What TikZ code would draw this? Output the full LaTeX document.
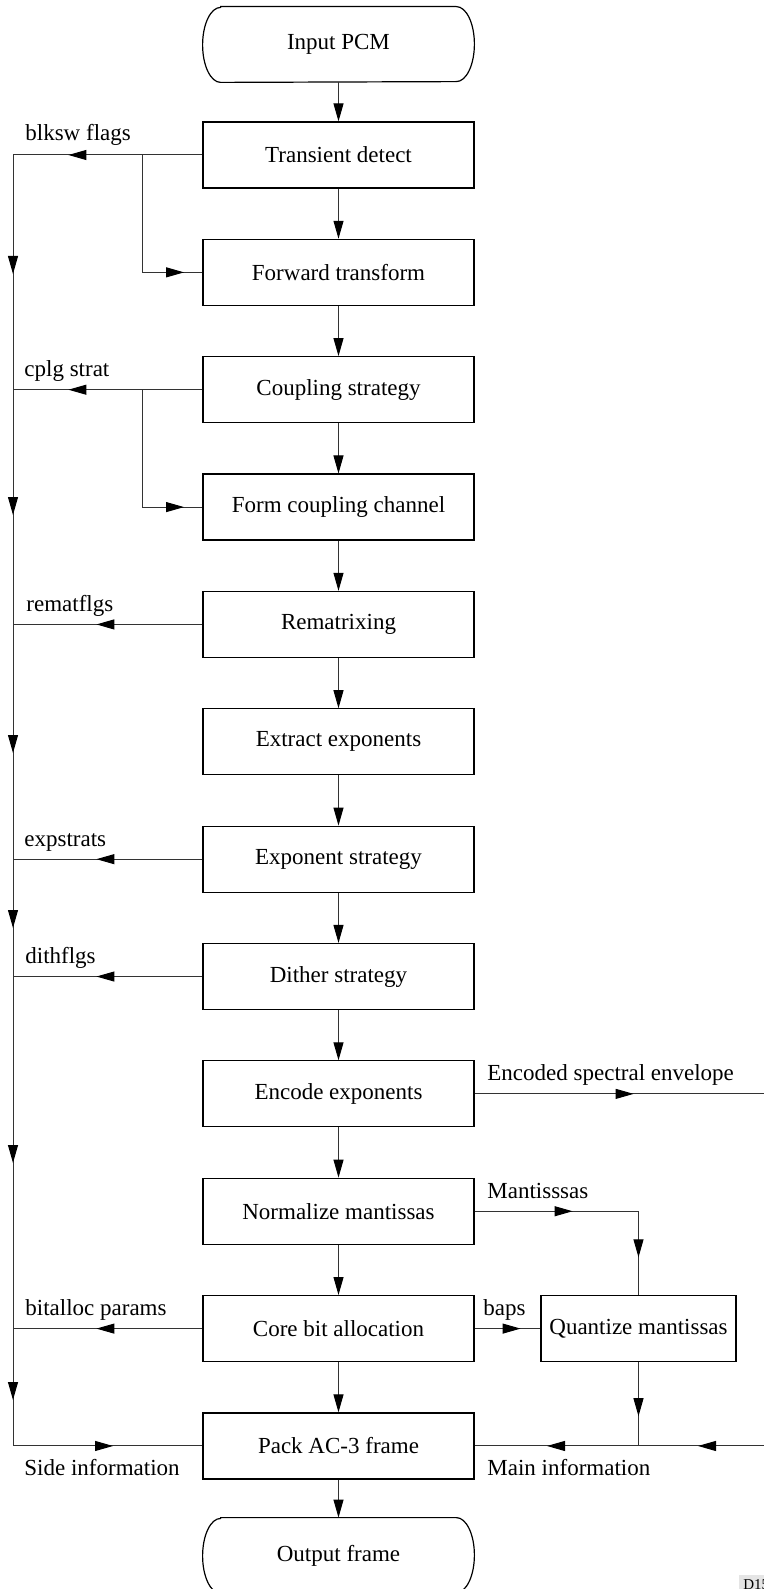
\documentclass[tikz,border=0pt]{standalone}
\usepackage{fontspec}
\setmainfont{Liberation Serif}
\usetikzlibrary{arrows.meta,decorations.markings}

\tikzset{
  flow/.tip={Triangle[length=9pt,width=5pt,color=black]},
  stage/.style={draw, line width=0.6pt, minimum width=135.5pt, minimum height=33pt, inner sep=0pt},
  terminal/.style={minimum width=135.5pt, minimum height=37.5pt, inner sep=0pt},
  link/.style={black!80, line width=0.5pt},
  tipat/.style={postaction={decorate, decoration={markings, mark=at position #1 with {\arrow{flow}}}}},
  lbl/.style={anchor=base west, inner sep=0pt},
}

\begin{document}
\begin{tikzpicture}[x=0.5pt, y=0.5pt, font=\fontsize{11.5}{13}\selectfont]
    \useasboundingbox (0,0) rectangle (764,-1589);
    \coordinate (bus) at (13,0);
    \coordinate (br) at (142,0);
    \coordinate (edge) at (764,0);

    % main chain of stages
    \node[terminal] (inpcm) at (338.5,-44.5) {Input PCM};
    \foreach \i/\n/\t in {0/trans/Transient detect, 1/fwd/Forward transform,
        2/cplg/Coupling strategy, 3/form/Form coupling channel, 4/remat/Rematrixing,
        5/extr/Extract exponents, 6/expst/Exponent strategy, 7/dith/Dither strategy,
        8/enc/Encode exponents, 9/norm/Normalize mantissas, 10/core/Core bit allocation,
        11/pack/Pack AC-3 frame}
      \node[stage] (\n) at (338.5,{-155-117.36*\i}) {\t};
    \node[terminal] (outfrm) at (338.5,-1555.5) {Output frame};
    \node[stage, minimum width=97.5pt] (quant) at (638.5,-1328.6) {Quantize mantissas};

    \foreach \t in {inpcm,outfrm}
      \draw[line width=0.6pt] ([xshift=9pt]\t.north west) -- ([xshift=-9pt]\t.north east)
        arc[start angle=90, end angle=-90, x radius=9pt, y radius=18.75pt]
        -- ([xshift=9pt]\t.south west)
        arc[start angle=270, end angle=90, x radius=9pt, y radius=18.75pt] -- cycle;

    \foreach \a/\b in {inpcm/trans, trans/fwd, fwd/cplg, cplg/form, form/remat, remat/extr,
        extr/expst, expst/dith, dith/enc, enc/norm, norm/core, core/pack, pack/outfrm}
      \draw[link, -flow] (\a.south) -- (\b.north);

    % side information
    \draw[link, tipat=67pt] (trans.west) -- (trans.west -| bus);
    \draw[link, tipat=79.7pt] (trans.west -| br) |- (fwd.west);
    \draw[link, tipat=67pt] (cplg.west) -- (cplg.west -| bus);
    \draw[link, tipat=79.7pt] (cplg.west -| br) |- (form.west);
    \foreach \n in {remat, expst, dith, core}
      \draw[link, tipat=53pt] (\n.west) -- (\n.west -| bus);
    \draw[link, postaction={decorate, decoration={markings,
        mark=at position 59.5pt with {\arrow{flow}},
        mark=at position 180pt with {\arrow{flow}},
        mark=at position 299pt with {\arrow{flow}},
        mark=at position 386.5pt with {\arrow{flow}},
        mark=at position 504pt with {\arrow{flow}},
        mark=at position 622.5pt with {\arrow{flow}},
        mark=at position 695.5pt with {\arrow{flow}}}}]
      (trans.west -| bus) -- (pack.west -| bus) -- (pack.west);

    % main information
    \draw[link, tipat=79.5pt] (enc.east) -- (enc.east -| edge);
    \draw[link, tipat=49pt, tipat=105pt] (norm.east) -| (quant.north);
    \draw[link, tipat=23pt] (core.east) -- (quant.west);
    \draw[link, tipat=27pt] (quant.south) -- (quant.south |- pack.east);
    \draw[link, tipat=33pt, tipat=108.5pt] (pack.east -| edge) -- (pack.east);

    \node[lbl] (lblksw) at (25,-141) {blksw flags};
    \node[lbl] (lcplg) at (24,-376) {cplg strat};
    \node[lbl] (lremat) at (26,-611) {rematflgs};
    \node[lbl] (lexpst) at (24,-846) {expstrats};
    \node[lbl] (ldith) at (25,-963) {dithflgs};
    \node[lbl] (lbital) at (25,-1315) {bitalloc params};
    \node[lbl] (lside) at (24,-1475) {Side information};
    \node[lbl] (lenv) at (487,-1080) {Encoded spectral envelope};
    \node[lbl] (lmant) at (487,-1198) {Mantisssas};
    \node[lbl] (lbaps) at (483,-1315) {baps};
    \node[lbl] (lmain) at (487,-1475) {Main information};

    \node[anchor=north west, fill=black!10, inner sep=2pt, font=\fontsize{7.5}{9}\selectfont]
      (tag) at (739,-1575) {D15};
\end{tikzpicture}
\end{document}
